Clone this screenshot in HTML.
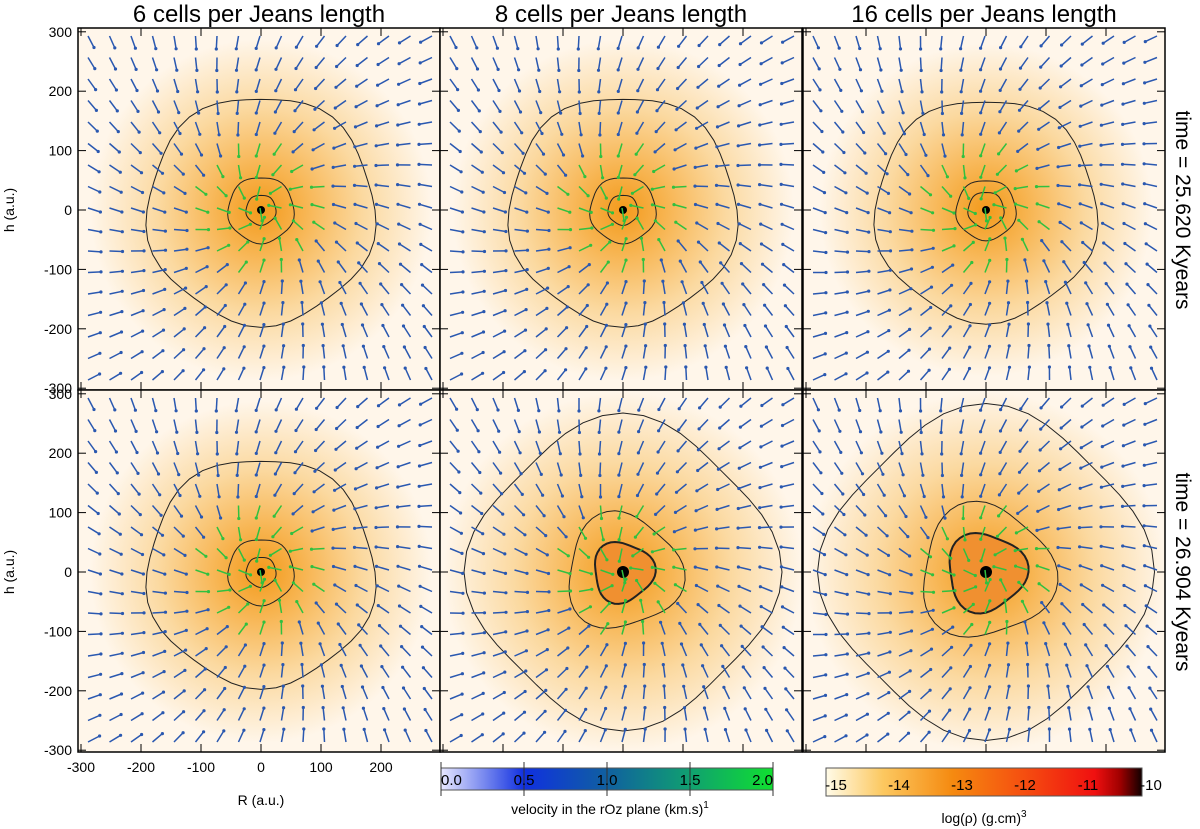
<!DOCTYPE html>
<html><head><meta charset="utf-8">
<style>
body{margin:0;background:#fff;width:1200px;height:829px;overflow:hidden;font-family:"Liberation Sans",sans-serif}
svg{position:absolute;left:0;top:0}
</style></head>
<body>
<svg id="fig" width="1200" height="829" xmlns="http://www.w3.org/2000/svg">
<defs id="defs">
<radialGradient id="dens" cx="0.5" cy="0.5" r="0.5">
<stop offset="0" stop-color="#f39a1c"/><stop offset="0.25" stop-color="#f7b450"/><stop offset="0.6" stop-color="#fbd9a0"/><stop offset="1" stop-color="#fff6ea"/>
</radialGradient>
<linearGradient id="velbar" x1="0" x2="1">
<stop offset="0" stop-color="#e8e8ff"/><stop offset="0.25" stop-color="#1030e0"/><stop offset="0.5" stop-color="#1060a0"/><stop offset="0.75" stop-color="#10a070"/><stop offset="1" stop-color="#10e030"/>
</linearGradient>
<linearGradient id="densbar" x1="0" x2="1">
<stop offset="0" stop-color="#fffbe8"/><stop offset="0.18" stop-color="#fcc860"/><stop offset="0.4" stop-color="#f58a10"/><stop offset="0.62" stop-color="#f55010"/><stop offset="0.85" stop-color="#f01010"/><stop offset="0.93" stop-color="#a00000"/><stop offset="1" stop-color="#100000"/>
</linearGradient>
</defs>
<g id="panels"></g>
<g font-size="24" text-anchor="middle" fill="#000">
<text x="259" y="22">6 cells per Jeans length</text>
<text x="621" y="22">8 cells per Jeans length</text>
<text x="984" y="22">16 cells per Jeans length</text>
<text transform="translate(1176,210) rotate(90)" font-size="21">time = 25.620 Kyears</text>
<text transform="translate(1176,572) rotate(90)" font-size="21">time = 26.904 Kyears</text>
</g>
<g font-size="14" text-anchor="middle">
<text transform="translate(14,210) rotate(-90)">h (a.u.)</text>
<text transform="translate(14,572) rotate(-90)">h (a.u.)</text>
<text x="261" y="805">R (a.u.)</text>
</g>
<g>
<rect x="441" y="768" width="332" height="22" fill="url(#velbar)" stroke="#555"/>
<g id="velticks" font-size="15"></g>
<text x="610" y="814" font-size="14" text-anchor="middle">velocity in the rOz plane (km.s)<tspan dy="-6" font-size="10">1</tspan></text>
</g>
<g>
<rect x="826" y="768" width="316" height="28" fill="url(#densbar)" stroke="#555"/>
<g id="densticks" font-size="15"></g>
<text x="984" y="823" font-size="14" text-anchor="middle">log(ρ) (g.cm)<tspan dy="-6" font-size="10">3</tspan></text>
</g>
</svg>
<script>
const yTicks=[300,200,100,0,-100,-200,-300];
const xTicks=[-300,-200,-100,0,100,200];
const velTicks=[0.0,0.5,1.0,1.5,2.0];
const densTicks=[-15,-14,-13,-12,-11,-10];
// contour radii (a.u.) per panel
const outerR=[190,190,185,190,250,265];
const midR=[55,55,50,55,95,110];
const innerR=[25,25,30,25,50,65];
const swirl=[0.3,0.3,0.35,0.3,0.25,0.35];

const NS="http://www.w3.org/2000/svg";
const g=document.getElementById('panels');
const defs=document.getElementById('defs');
const X0=[78,440,803],Y0=[28,390],W=362,H=362,S=0.6;
function mk(t,a,p){const e=document.createElementNS(NS,t);for(const k in a)e.setAttribute(k,a[k]);(p||g).appendChild(e);return e;}
for(let p=0;p<6;p++){
  const c=p%3,r=Math.floor(p/3),x0=X0[c],y0=Y0[r],cx=x0+183,cy=y0+182;
  const cp=mk('clipPath',{id:'clip'+p},defs);
  mk('rect',{x:x0,y:y0,width:W,height:H},cp);
  const pg=mk('g',{'clip-path':'url(#clip'+p+')'});
  
  
  mk('rect',{x:x0,y:y0,width:W,height:H,fill:'#fff6ea'},pg);
  const gr=(p>=4?200:outerR[p])*S*1.5;
  mk('circle',{cx:cx,cy:cy,r:gr,fill:'url(#dens)'},pg);
  [outerR[p],midR[p],innerR[p]].forEach((R,i)=>{
    let d='';for(let k=0;k<=48;k++){const a=k/48*2*Math.PI;const rr=R*S*(1+(p>=4&&i>0?0.1*Math.sin(3*a+i):(p>=4?0.06*Math.cos(4*a):0.03*Math.sin(5*a))));
      const px=cx+rr*Math.cos(a),py=cy+rr*Math.sin(a);d+=(k?'L':'M')+px.toFixed(1)+','+py.toFixed(1);}
    const e=mk('path',{d:d+'Z',fill:i==2&&p>=4?'#f09030':'none',stroke:'#222','stroke-width':i==2&&p>=4?2:1},pg);
    
    
  });
  mk('circle',{cx:cx,cy:cy,r:p>=4?6:4,fill:'#000'},pg);
  for(let gx=x0+10;gx<x0+W-5;gx+=21.5){for(let gy=y0+8;gy<y0+H-5;gy+=21.5){
    const dx=cx-gx,dy=cy-gy,dist=Math.hypot(dx,dy)+1;
    const ang=Math.atan2(dy,dx)+swirl[p];
    const L=13,ex=gx+L*Math.cos(ang),ey=gy+L*Math.sin(ang);
    const col=dist<75?'#30c040':'#2a58b0';
    const a=mk('line',{x1:gx.toFixed(1),y1:gy.toFixed(1),x2:ex.toFixed(1),y2:ey.toFixed(1),stroke:col,'stroke-width':1.5},pg);
    
    
    mk('circle',{cx:ex.toFixed(1),cy:ey.toFixed(1),r:1.6,fill:col},pg);
  }}
  const fg=mk('g',{});
  mk('rect',{x:x0,y:y0,width:W,height:H,fill:'none',stroke:'#000','stroke-width':1.5},fg);
  yTicks.forEach(v=>{const y=cy-v*S*0.99;mk('line',{x1:x0,x2:x0+8,y1:y,y2:y,stroke:'#000'},fg);mk('line',{x1:x0+W,x2:x0+W-8,y1:y,y2:y,stroke:'#000'},fg);
    if(c==0){const t=mk('text',{x:x0-6,y:y+5,'font-size':14,'text-anchor':'end'},fg);t.textContent=v;}});
  xTicks.forEach(v=>{const x=cx+v*S;mk('line',{x1:x,x2:x,y1:y0,y2:y0+8,stroke:'#000'},fg);mk('line',{x1:x,x2:x,y1:y0+H,y2:y0+H-8,stroke:'#000'},fg);
    if(c==0&&r==1){const t=mk('text',{x:x,y:y0+H+20,'font-size':14,'text-anchor':'middle'},fg);t.textContent=v;}});
}
const vt=document.getElementById('velticks');
velTicks.forEach(v=>{const x=441+v/2*332;mk('line',{x1:x,x2:x,y1:762,y2:796,stroke:'#333'},vt);const t=mk('text',{x:x,y:785,'text-anchor':v==2?'end':(v==0?'start':'middle')},vt);t.textContent=v.toFixed(1);});
const dt=document.getElementById('densticks');
densTicks.forEach((v,i)=>{const x=836+i*63;const t=mk('text',{x:x,y:790,'text-anchor':'middle'},dt);t.textContent=v;});
</script>
</body></html>
